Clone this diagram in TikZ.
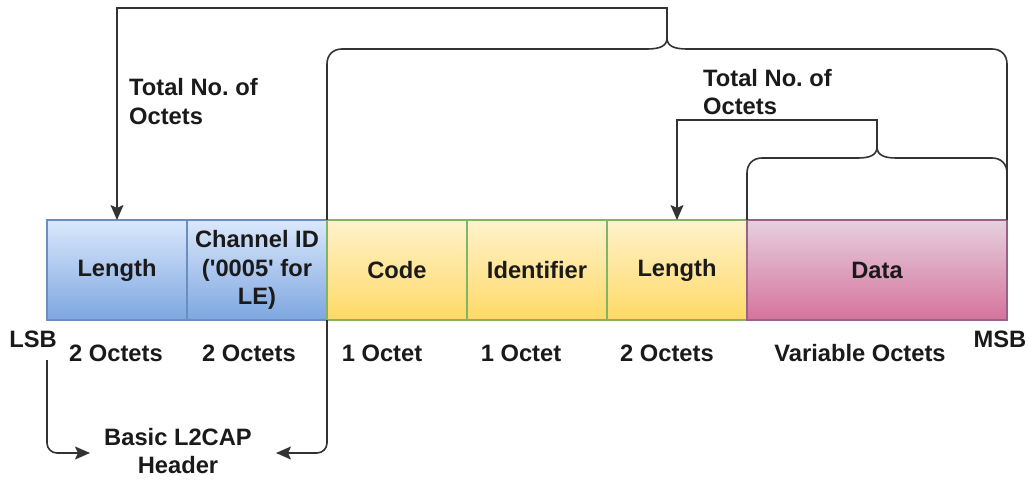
\documentclass[tikz,border=0pt]{standalone}
\usepackage{fontspec}
\setmainfont{Liberation Sans}
\usetikzlibrary{arrows.meta}
\definecolor{bluetop}{HTML}{DAE8FC}
\definecolor{bluebot}{HTML}{7EA6E0}
\definecolor{blueline}{HTML}{6C8EBF}
\definecolor{yeltop}{HTML}{FFF2CC}
\definecolor{yelbot}{HTML}{FFD966}
\definecolor{greenline}{HTML}{82B366}
\definecolor{pinktop}{HTML}{E6D0DE}
\definecolor{pinkbot}{HTML}{D5739D}
\definecolor{pinkline}{HTML}{996185}
\definecolor{ink}{HTML}{1A1A1A}
\definecolor{wire}{HTML}{333333}
\tikzset{
  field/.style={minimum height=100pt, inner sep=0pt, outer sep=0pt, line width=1.2pt, align=center, text=ink},
  bluebox/.style={field, minimum width=140pt, top color=bluetop, bottom color=bluebot, draw=blueline},
  yelbox/.style={field, minimum width=140pt, top color=yeltop, bottom color=yelbot, draw=greenline},
  pinkbox/.style={field, minimum width=260pt, top color=pinktop, bottom color=pinkbot, draw=pinkline},
  lbl/.style={inner sep=0pt, text=ink},
  conn/.style={draw=wire, line width=1.6pt},
  tip/.style={-{Stealth[length=15pt,width=13pt,inset=3pt]}},
}
\frenchspacing
\begin{document}
\begin{tikzpicture}[x=1pt,y=-1pt,font=\bfseries\fontsize{23.7}{28.4}\selectfont]
\useasboundingbox (0,0) rectangle (1028,481);

% fields
\node[bluebox] (len1) at (117,270) {Length};
\node[bluebox] (cid) at (257,270) {Channel ID\\(\textquotesingle0005\textquotesingle{} for\\LE)};
\node[yelbox] (code) at (397,270) {Code};
\node[yelbox] (ident) at (537,270) {Identifier};
\node[yelbox] (len2) at (677,270) {Length};
\node[pinkbox] (data) at (877,270) {Data};

% bottom labels
\node[lbl] (lsb) at (33,339) {LSB};
\node[lbl] (msb) at (1000,339) {MSB};
\node[lbl] (o1) at (116,353) {2 Octets};
\node[lbl] (o2) at (249,353) {2 Octets};
\node[lbl] (o3) at (382,353) {1 Octet};
\node[lbl] (o4) at (521,353) {1 Octet};
\node[lbl] (o5) at (667,353) {2 Octets};
\node[lbl] (o6) at (860,353) {Variable Octets};
\node[lbl, align=center] (hdr) at (178,451) {Basic L2CAP\\Header};

% top labels
\node[lbl, align=left, anchor=west] (tot1) at (129,101.5) {Total No. of\\Octets};
\node[lbl, align=left, anchor=west] (tot2) at (703,92) {Total No. of\\Octets};

% big brace
\draw[conn] (code.north west) -- (327,64) .. controls (327,55) and (333,49) .. (342,49)
  -- (647,49) .. controls (660,49) and (667,46) .. (667,38) coordinate (tipA)
  .. controls (667,46) and (674,49) .. (687,49) -- (992,49)
  .. controls (1001,49) and (1007,55) .. (1007,64) -- (data.north east);
\draw[conn, tip] (tipA) -- (667,8) -- (117,8) -- (len1.north);

% small brace
\draw[conn] (data.north west) -- (747,173) .. controls (747,164) and (753,158) .. (762,158)
  -- (858,158) .. controls (870,158) and (877,155) .. (877,147) coordinate (tipB)
  .. controls (877,155) and (884,158) .. (896,158) -- (992,158)
  .. controls (1001,158) and (1007,164) .. (1007,173);
\draw[conn, tip] (tipB) -- (877,120) -- (677,120) -- (len2.north);

% bottom arrows
\coordinate (lsbfoot) at (47,360);
\coordinate (hdrL) at (90,453);
\coordinate (hdrR) at (276,453);
\draw[conn, tip, rounded corners=10pt] (lsbfoot) -- (47,453) -- (hdrL);
\draw[conn, tip, rounded corners=10pt] (code.south west) -- (327,453) -- (hdrR);
\end{tikzpicture}
\end{document}
